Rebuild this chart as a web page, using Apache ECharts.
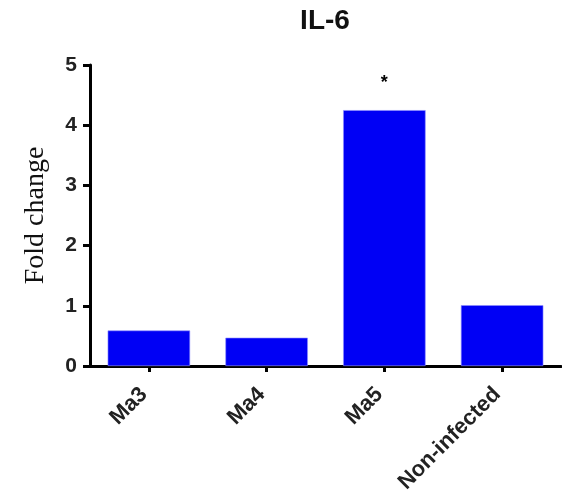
<!DOCTYPE html>
<html>
<head>
<meta charset="utf-8">
<script src="https://cdn.jsdelivr.net/npm/echarts@6/dist/echarts.min.js"></script>
<style>
  html, body { margin: 0; padding: 0; background: #fff; }
  #chart { width: 562px; height: 491px; }
</style>
</head>
<body>
<div id="chart"></div>
<script>
// IL-6 expression per strain, relative to non-infected control
var categories = ['Ma3', 'Ma4', 'Ma5', 'Non-infected'];
var foldChange = [0.59, 0.47, 4.25, 1.01];
var significance = ['', '', '*', ''];
var yTicks = [0, 1, 2, 3, 4, 5];

var sans = 'Arial, Liberation Sans, sans-serif';
var chart = echarts.init(document.getElementById('chart'));

var barData = foldChange.map(function (v, i) {
  var item = { value: v };
  if (significance[i]) {
    item.label = {
      show: true,
      position: 'top',
      distance: 18,
      formatter: significance[i],
      fontSize: 18,
      fontWeight: 'bold',
      color: '#000',
      fontFamily: sans
    };
  }
  return item;
});

chart.setOption({
  animation: false,
  title: {
    text: 'IL-6',
    left: 320,
    top: 2,
    textAlign: 'center',
    textStyle: {
      fontSize: 28,
      fontWeight: 'bold',
      color: '#111',
      fontFamily: sans
    }
  },
  grid: { left: 90, right: 1, top: 65, bottom: 125, containLabel: false, outerBoundsMode: 'none' },
  xAxis: {
    type: 'category',
    data: categories,
    axisLine: { lineStyle: { color: '#000', width: 3 } },
    axisTick: { show: true, alignWithLabel: true, length: 6, lineStyle: { color: '#000', width: 3 } },
    axisLabel: {
      rotate: 45,
      margin: 20,
      padding: [0, 7, 0, 0],
      color: '#222',
      fontSize: 22,
      fontWeight: 'bold',
      fontFamily: sans
    }
  },
  yAxis: {
    type: 'value',
    min: yTicks[0],
    max: yTicks[yTicks.length - 1],
    interval: 1,
    name: 'Fold change',
    nameLocation: 'middle',
    nameGap: 40,
    nameTextStyle: {
      fontSize: 28,
      color: '#111',
      fontFamily: 'Liberation Serif, Times New Roman, serif'
    },
    splitLine: { show: false },
    axisLine: { show: true, lineStyle: { color: '#000', width: 3 } },
    axisTick: { show: true, length: 7, lineStyle: { color: '#000', width: 3 } },
    axisLabel: {
      margin: 13,
      color: '#222',
      fontSize: 21,
      fontWeight: 'bold',
      fontFamily: sans
    }
  },
  series: [{
    type: 'bar',
    data: barData,
    barWidth: '70%',
    itemStyle: { color: '#0000f5', borderColor: '#8f8fff', borderWidth: 0.6 }
  }]
});
</script>
</body>
</html>
